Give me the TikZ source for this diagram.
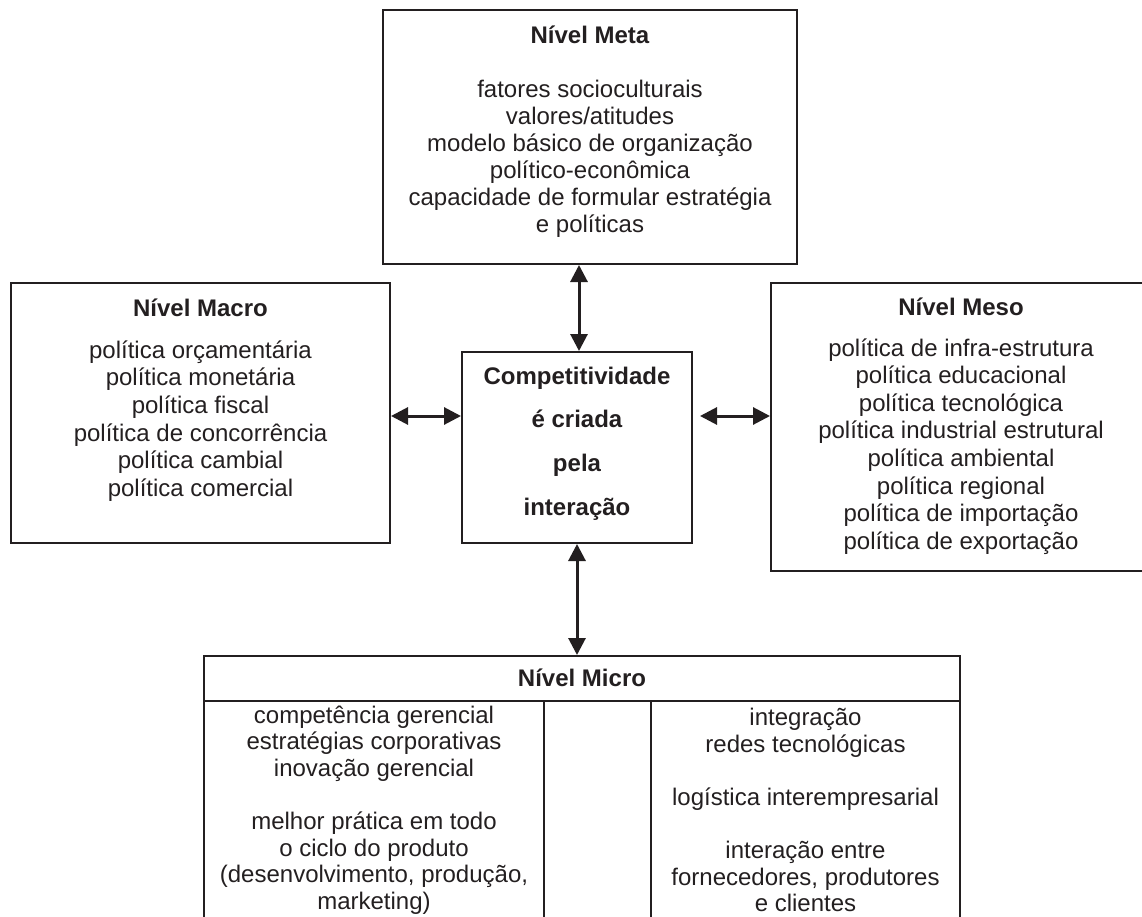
\documentclass[tikz,border=0pt]{standalone}
\usepackage{fontspec}
\setmainfont{Liberation Sans}
\usetikzlibrary{arrows.meta}
\definecolor{ink}{HTML}{231F20}
\begin{document}
\begin{tikzpicture}[x=1pt,y=-1pt,
  box/.style={draw=ink,line width=2pt,rectangle,inner sep=0pt},
  boxline/.style={draw=ink,line width=2pt},
  hdr/.style={font=\fontsize{24}{27.6}\selectfont\bfseries,text=ink,inner sep=0pt},
  body/.style={font=\fontsize{24}{27.6}\selectfont,text=ink,inner sep=0pt,align=center},
  dbl/.style={{Triangle[length=17pt,width=17pt]}-{Triangle[length=17pt,width=17pt]},line width=3pt,draw=ink}]
\useasboundingbox (0,0) rectangle (1142,917);
\clip (0,0) rectangle (1142,917);
% boxes
\node[box,minimum width=414pt,minimum height=254pt] (meta) at (590,137) {};
\node[box,minimum width=379pt,minimum height=260pt] (macro) at (200.5,413) {};
\node[box,minimum width=380pt,minimum height=288pt] (meso) at (961,427) {};
\node[box,minimum width=230pt,minimum height=191pt] (cent) at (577,447.5) {};
\node[box,minimum width=756pt,minimum height=300pt,anchor=north] (micro) at (582,655) {};
\coordinate (hl) at (0,701);
\coordinate (c1) at (544,701);
\coordinate (c2) at (651,701);
\draw[boxline] (micro.west |- hl) -- (micro.east |- hl);
\draw[boxline] (c1) -- (c1 |- micro.south);
\draw[boxline] (c2) -- (c2 |- micro.south);
% texts
\node[hdr] (metah) at (590,35) {Nível Meta};
\node[body,font=\fontsize{24}{27}\selectfont] (metab) at (590,158.5) {fatores socioculturais\\valores/atitudes\\modelo básico de organização\\político-econômica\\capacidade de formular estratégia\\e políticas};
\node[hdr] (macroh) at (200.5,308) {Nível Macro};
\node[body] (macrob) at (200.5,421) {política orçamentária\\política monetária\\política fiscal\\política de concorrência\\política cambial\\política comercial};
\node[hdr] (mesoh) at (961,307) {Nível Meso};
\node[body] (mesob) at (961,446.5) {política de infra-estrutura\\política educacional\\política tecnológica\\política industrial estrutural\\política ambiental\\política regional\\política de importação\\política de exportação};
\node[hdr,align=center,font=\fontsize{24}{43.7}\selectfont\bfseries] (centt) at (577,443.5) {Competitividade\\é criada\\pela\\interação};
\node[hdr] (microh) at (582,678) {Nível Micro};
\node[body,font=\fontsize{24}{26.6}\selectfont] (microl) at (374,810) {competência gerencial\\estratégias corporativas\\inovação gerencial\\~\\melhor prática em todo\\o ciclo do produto\\(desenvolvimento, produção,\\marketing)};
\node[body,font=\fontsize{24}{26.6}\selectfont] (micror) at (805.5,810) {integração\\redes tecnológicas\\~\\logística interempresarial\\~\\interação entre\\fornecedores, produtores\\e clientes};
% connectors
\coordinate (ya) at (0,416);
\draw[dbl] ([xshift=2pt]cent.north |- meta.south) -- ([xshift=2pt]cent.north);
\draw[dbl] (macro.east |- ya) -- (cent.west |- ya);
\draw[dbl] ([xshift=7pt]cent.east |- ya) -- (meso.west |- ya);
\draw[dbl] (cent.south) -- (cent.south |- micro.north);
\end{tikzpicture}
\end{document}
